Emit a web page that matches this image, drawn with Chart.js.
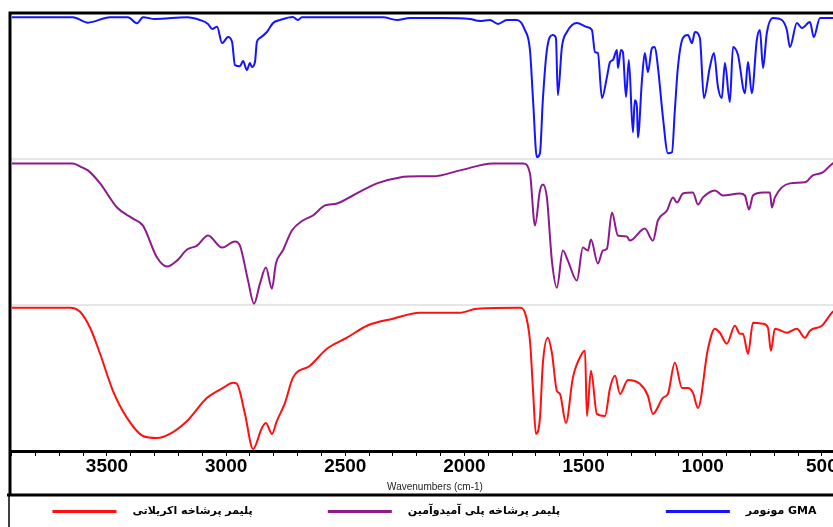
<!DOCTYPE html>
<html>
<head>
<meta charset="utf-8">
<script src="https://cdn.jsdelivr.net/npm/chart.js@4.4.1/dist/chart.umd.min.js"></script>
<style>
  html, body { margin: 0; padding: 0; background: #fff; overflow: hidden; }
  canvas { display: block; }
</style>
</head>
<body>
<canvas id="grafica" width="860" height="527"></canvas>
<script>
// FTIR spectra (transmittance within each stacked band, 0-100)
const gmaWn = [3899, 3643, 3580, 3487, 3412, 3374, 3349, 3299, 3164, 3110, 3076, 3059, 3038, 3017, 2992, 2975, 2963, 2942, 2929, 2913, 2900, 2892, 2879, 2871, 2858, 2829, 2803, 2774, 2720, 2699, 2682, 2342, 2283, 2229, 2090, 1977, 1935, 1893, 1859, 1822, 1780, 1746, 1725, 1712, 1696, 1683, 1671, 1654, 1629, 1616, 1608, 1591, 1570, 1528, 1486, 1465, 1452, 1440, 1423, 1402, 1389, 1377, 1360, 1356, 1343, 1335, 1322, 1310, 1293, 1285, 1276, 1272, 1255, 1243, 1230, 1213, 1201, 1188, 1167, 1146, 1129, 1117, 1104, 1083, 1062, 1045, 1033, 1012, 995, 970, 953, 936, 920, 907, 886, 873, 852, 823, 810, 794, 773, 760, 747, 731, 706, 668, 647, 634, 605, 584, 550, 534, 508, 454, 410];
const gmaT = [97.1, 97.1, 93.4, 97.1, 97.1, 93.0, 97.1, 95.9, 97.1, 95.2, 92.5, 89.1, 90.5, 79.4, 83.5, 80.1, 64.3, 63.6, 67.1, 60.9, 65.7, 63.0, 66.4, 80.1, 82.9, 87.0, 93.2, 95.2, 97.3, 95.2, 97.1, 97.1, 95.2, 96.6, 96.6, 95.9, 94.5, 95.2, 92.5, 95.2, 95.2, 88.3, 74.6, 40.3, 1.2, 3.9, 40.3, 74.6, 84.9, 82.9, 43.7, 76.7, 87.0, 93.2, 90.4, 88.3, 73.2, 72.6, 41.7, 56.1, 66.4, 67.8, 74.6, 62.3, 74.6, 73.2, 42.4, 67.8, 18.3, 40.3, 35.5, 14.8, 54.0, 72.6, 59.5, 76.0, 76.7, 63.0, 28.6, 3.9, 4.6, 33.4, 63.0, 82.9, 84.9, 79.4, 87.0, 82.9, 41.7, 63.0, 72.6, 49.2, 41.7, 65.7, 39.0, 76.7, 71.2, 45.1, 66.4, 45.1, 81.5, 88.3, 62.3, 86.3, 96.6, 95.2, 88.3, 76.7, 93.2, 89.7, 93.8, 83.5, 96.6, 96.6, 96.6];

const pamamWn = [3899, 3643, 3605, 3580, 3529, 3458, 3391, 3349, 3290, 3248, 3206, 3164, 3122, 3076, 3017, 2963, 2942, 2908, 2883, 2858, 2833, 2808, 2791, 2762, 2724, 2678, 2636, 2585, 2535, 2468, 2367, 2271, 2187, 2132, 2019, 1880, 1754, 1725, 1704, 1683, 1671, 1654, 1633, 1612, 1587, 1566, 1528, 1503, 1482, 1469, 1440, 1419, 1402, 1381, 1356, 1318, 1306, 1243, 1209, 1188, 1150, 1125, 1108, 1083, 1041, 1020, 999, 949, 915, 844, 823, 806, 789, 747, 718, 710, 697, 634, 571, 538, 496, 454, 410];
const pamamT = [97.0, 97.0, 94.2, 92.2, 83.3, 66.8, 59.2, 54.4, 32.5, 26.3, 30.4, 38.0, 40.7, 47.6, 39.3, 43.5, 40.7, 16.7, 0.9, 14.6, 25.6, 11.2, 28.4, 37.3, 51.0, 57.9, 61.3, 68.2, 69.5, 75.0, 83.3, 87.4, 88.1, 88.1, 92.2, 97.0, 97.0, 90.1, 54.4, 78.5, 82.6, 73.7, 30.4, 11.9, 37.3, 30.4, 16.7, 39.3, 37.3, 44.8, 28.4, 37.3, 38.6, 63.4, 47.6, 46.9, 44.1, 52.4, 44.1, 57.9, 64.7, 73.7, 70.2, 76.4, 77.1, 68.9, 73.7, 78.5, 75.0, 76.4, 75.0, 65.4, 75.0, 77.1, 77.1, 66.8, 73.7, 83.3, 84.0, 88.8, 90.8, 97.0, 99.0];

const acrylWn = [3899, 3655, 3613, 3571, 3529, 3475, 3416, 3349, 3290, 3236, 3164, 3080, 3013, 2971, 2955, 2921, 2887, 2850, 2833, 2808, 2787, 2753, 2720, 2648, 2577, 2493, 2409, 2300, 2187, 2019, 1947, 1767, 1746, 1725, 1712, 1700, 1683, 1671, 1650, 1633, 1612, 1599, 1574, 1545, 1507, 1494, 1486, 1469, 1444, 1410, 1389, 1368, 1347, 1314, 1264, 1230, 1209, 1167, 1146, 1117, 1087, 1062, 1041, 1020, 978, 949, 928, 899, 865, 844, 831, 810, 789, 747, 726, 714, 697, 647, 605, 571, 550, 500, 454, 410];
const acrylT = [98.2, 98.2, 95.4, 84.4, 66.6, 41.2, 22.7, 10.3, 8.9, 11.7, 20.6, 36.4, 43.2, 46.7, 46.0, 25.4, 1.4, 15.8, 19.2, 11.7, 20.6, 33.0, 50.1, 58.4, 70.0, 77.6, 85.8, 90.6, 94.7, 94.7, 97.5, 98.2, 94.7, 75.5, 41.2, 11.7, 22.7, 59.7, 77.6, 67.3, 41.2, 39.1, 19.2, 50.1, 66.6, 68.6, 24.0, 54.9, 25.4, 24.0, 43.2, 51.5, 39.1, 48.7, 46.0, 37.8, 25.4, 36.4, 39.1, 60.4, 43.2, 43.2, 39.8, 29.5, 70.0, 83.8, 81.0, 73.5, 85.8, 80.3, 80.3, 66.6, 87.9, 87.2, 84.4, 68.6, 83.8, 81.0, 83.8, 77.6, 82.4, 85.8, 95.4, 99.0];

const seriesNames = ["مونومر GMA", "پلیمر پرشاخه پلی آمیدوآمین", "پلیمر پرشاخه اکریلاتی"];
const seriesColors = ["#1414ff", "#8e1a8e", "#ff1010"];
const xTickLabels = [3500, 3000, 2500, 2000, 1500, 1000, 500];
// gap after each legend entry (in no-break spaces), keyed by dataset index
const legendTrail = [0, 25, 17];

// each spectrum sits in its own band of the shared y axis (0-1, 1-2, 2-3)
const toPoints = (wn, t, band) => wn.map((w, i) => ({ x: w, y: band + t[i] / 100 }));

const datasets = [
  { data: toPoints(gmaWn, gmaT, 2) },
  { data: toPoints(pamamWn, pamamT, 1) },
  { data: toPoints(acrylWn, acrylT, 0) }
].map((d, i) => ({
  label: seriesNames[i],
  data: d.data,
  borderColor: seriesColors[i],
  backgroundColor: seriesColors[i],
  borderWidth: 2,
  pointRadius: 0,
  cubicInterpolationMode: "monotone",
  clip: false
}));

// frame lines around the plot and the legend strip
const frame = {
  id: "frame",
  afterDraw(chart) {
    const { ctx, chartArea } = chart;
    const sepY = chart.legend.top;
    ctx.save();
    ctx.strokeStyle = "#000";
    ctx.lineWidth = 3;
    ctx.beginPath();
    ctx.moveTo(chartArea.left - 1.5, chartArea.top);
    ctx.lineTo(chart.width, chartArea.top);
    ctx.moveTo(chartArea.left, chartArea.top);
    ctx.lineTo(chartArea.left, sepY);
    ctx.moveTo(7, sepY);
    ctx.lineTo(chart.width, sepY);
    ctx.stroke();
    ctx.lineWidth = 1.5;
    ctx.beginPath();
    ctx.moveTo(9, sepY);
    ctx.lineTo(9, chart.height);
    ctx.stroke();
    ctx.restore();
  }
};

const ctx = document.getElementById("grafica").getContext("2d");
new Chart(ctx, {
  type: "line",
  data: { datasets },
  plugins: [frame],
  options: {
    responsive: false,
    animation: false,
    layout: { padding: { left: 10, top: 13, right: 0, bottom: 0 } },
    scales: {
      x: {
        type: "linear",
        reverse: true,
        min: 340,
        max: 3907,
        afterBuildTicks: axis => {
          const ticks = [];
          for (let v = 400; v <= 3900; v += 100) ticks.push({ value: v });
          axis.ticks = ticks;
        },
        ticks: {
          autoSkip: false,
          maxRotation: 0,
          padding: 1,
          color: "#000",
          font: { family: "Liberation Sans", size: 19, weight: "bold", lineHeight: 1 },
          callback: v => xTickLabels.includes(v) ? String(v) : ""
        },
        grid: { drawOnChartArea: false, drawTicks: true, tickLength: 5, color: "#000", lineWidth: 1 },
        border: { color: "#000", width: 3 },
        title: {
          display: true,
          text: "Wavenumbers (cm-1)",
          color: "#222",
          font: { family: "Liberation Sans", size: 10, lineHeight: 1.2 },
          padding: { top: 4, bottom: 2 }
        }
      },
      y: {
        min: 0,
        max: 3,
        ticks: { display: false, stepSize: 1 },
        grid: {
          drawTicks: false,
          lineWidth: 2,
          color: c => (c.tick.value === 1 || c.tick.value === 2) ? "#e6e6e6" : "rgba(0,0,0,0)"
        },
        border: { display: false }
      }
    },
    plugins: {
      legend: {
        position: "bottom",
        reverse: true,
        labels: {
          boxWidth: 62,
          boxHeight: 1,
          padding: 11,
          color: "#000",
          font: { family: "DejaVu Sans", size: 11, weight: "bold" },
          generateLabels: chart => Chart.defaults.plugins.legend.labels.generateLabels(chart)
            .map(item => ({
              ...item,
              text: "\u00a0\u00a0\u00a0" + item.text + "\u00a0".repeat(legendTrail[item.datasetIndex])
            }))
        }
      },
      tooltip: { enabled: false }
    }
  }
});
</script>
</body>
</html>
